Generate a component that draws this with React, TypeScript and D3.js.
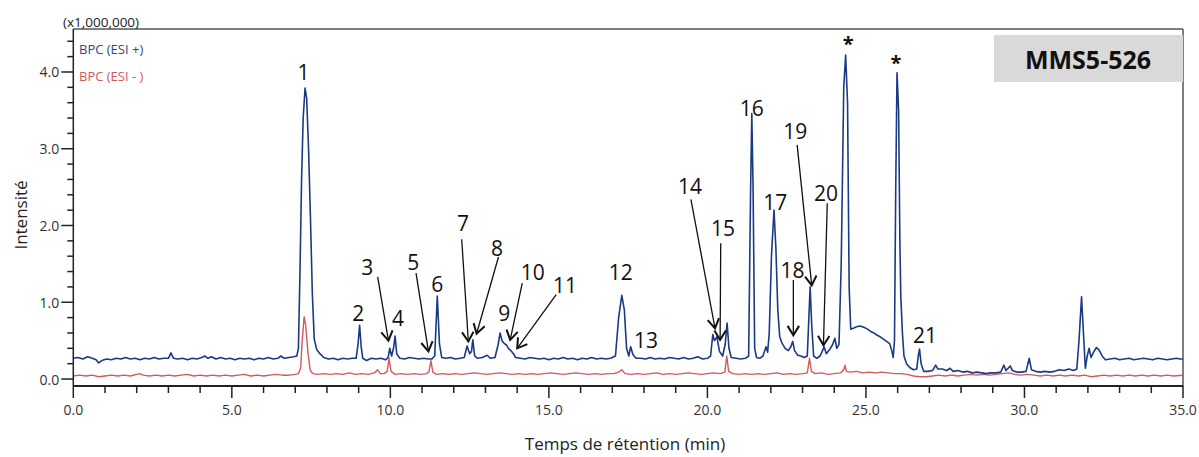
import React from 'react';
import * as d3 from 'd3';

// Chromatogram traces: [retention time (min), intensity (x1,000,000)]
const blueTrace: [number, number][] = [
  [0.0, 0.27], [0.15, 0.28], [0.3, 0.26], [0.45, 0.29], [0.6, 0.27], [0.72, 0.25], [0.8, 0.21], [0.9, 0.24],
  [1.05, 0.26], [1.2, 0.25], [1.35, 0.27], [1.5, 0.26], [1.65, 0.28], [1.8, 0.26], [1.95, 0.27], [2.1, 0.25],
  [2.25, 0.27], [2.4, 0.26], [2.55, 0.28], [2.7, 0.26], [2.85, 0.27], [3.0, 0.27], [3.08, 0.34], [3.16, 0.27],
  [3.3, 0.26], [3.45, 0.27], [3.6, 0.25], [3.75, 0.27], [3.9, 0.26], [4.05, 0.28], [4.15, 0.3], [4.25, 0.27],
  [4.35, 0.29], [4.5, 0.26], [4.65, 0.28], [4.8, 0.26], [4.95, 0.27], [5.1, 0.25], [5.25, 0.27], [5.4, 0.26],
  [5.55, 0.27], [5.7, 0.25], [5.85, 0.27], [6.0, 0.26], [6.15, 0.28], [6.3, 0.26], [6.45, 0.27], [6.55, 0.3],
  [6.65, 0.27], [6.8, 0.28], [6.95, 0.29], [7.05, 0.3], [7.1, 0.4], [7.15, 1.4], [7.2, 2.6], [7.25, 3.4],
  [7.31, 3.79], [7.36, 3.66], [7.42, 3.0], [7.48, 2.1], [7.54, 1.1], [7.6, 0.52], [7.68, 0.38], [7.78, 0.33],
  [7.9, 0.28], [8.05, 0.26], [8.2, 0.27], [8.35, 0.25], [8.5, 0.27], [8.65, 0.26], [8.8, 0.27], [8.92, 0.27],
  [8.98, 0.45], [9.03, 0.7], [9.08, 0.42], [9.13, 0.27], [9.25, 0.24], [9.4, 0.27], [9.55, 0.26], [9.7, 0.27],
  [9.85, 0.25], [9.93, 0.28], [9.98, 0.4], [10.04, 0.3], [10.1, 0.4], [10.15, 0.56], [10.2, 0.33], [10.3, 0.27],
  [10.45, 0.26], [10.6, 0.28], [10.75, 0.27], [10.9, 0.26], [11.05, 0.27], [11.2, 0.26], [11.3, 0.26], [11.4, 0.3],
  [11.48, 1.08], [11.55, 0.45], [11.62, 0.28], [11.75, 0.27], [11.9, 0.28], [12.05, 0.26], [12.2, 0.27], [12.33, 0.28],
  [12.42, 0.43], [12.5, 0.33], [12.56, 0.36], [12.6, 0.51], [12.66, 0.3], [12.75, 0.27], [12.9, 0.28], [13.05, 0.31],
  [13.15, 0.27], [13.3, 0.28], [13.4, 0.45], [13.46, 0.6], [13.52, 0.5], [13.6, 0.46], [13.67, 0.44], [13.72, 0.4],
  [13.8, 0.37], [13.88, 0.33], [13.95, 0.28], [14.1, 0.27], [14.25, 0.26], [14.4, 0.28], [14.55, 0.27], [14.7, 0.26],
  [14.85, 0.27], [15.0, 0.25], [15.15, 0.27], [15.3, 0.26], [15.45, 0.28], [15.6, 0.26], [15.75, 0.27], [15.9, 0.25],
  [16.05, 0.27], [16.2, 0.26], [16.35, 0.28], [16.5, 0.26], [16.65, 0.27], [16.8, 0.26], [16.95, 0.27], [17.1, 0.3],
  [17.2, 0.8], [17.3, 1.09], [17.38, 0.9], [17.45, 0.4], [17.52, 0.3], [17.58, 0.42], [17.65, 0.32], [17.75, 0.27],
  [17.9, 0.27], [18.05, 0.26], [18.2, 0.28], [18.35, 0.26], [18.5, 0.27], [18.65, 0.26], [18.8, 0.28], [18.95, 0.27],
  [19.1, 0.26], [19.25, 0.28], [19.4, 0.26], [19.55, 0.27], [19.7, 0.29], [19.85, 0.26], [20.0, 0.27], [20.1, 0.3],
  [20.17, 0.58], [20.22, 0.5], [20.3, 0.55], [20.38, 0.36], [20.48, 0.3], [20.56, 0.45], [20.62, 0.73], [20.68, 0.4],
  [20.75, 0.28], [20.9, 0.27], [21.05, 0.26], [21.2, 0.27], [21.3, 0.3], [21.36, 2.4], [21.4, 3.46], [21.44, 2.5],
  [21.49, 0.4], [21.55, 0.28], [21.65, 0.27], [21.75, 0.3], [21.85, 0.42], [21.9, 0.35], [21.95, 0.6], [22.02, 1.6],
  [22.1, 2.2], [22.16, 1.7], [22.22, 0.9], [22.28, 0.55], [22.35, 0.47], [22.45, 0.4], [22.55, 0.37], [22.63, 0.42],
  [22.69, 0.49], [22.75, 0.37], [22.85, 0.31], [22.95, 0.3], [23.05, 0.28], [23.15, 0.3], [23.2, 0.8], [23.24, 1.2],
  [23.29, 0.7], [23.35, 0.3], [23.45, 0.27], [23.55, 0.3], [23.62, 0.36], [23.68, 0.42], [23.75, 0.33], [23.85, 0.38],
  [23.95, 0.45], [24.02, 0.53], [24.08, 0.4], [24.15, 0.45], [24.22, 1.5], [24.3, 3.8], [24.36, 4.22], [24.42, 3.6],
  [24.47, 1.2], [24.52, 0.65], [24.6, 0.66], [24.7, 0.68], [24.82, 0.69], [24.95, 0.67], [25.05, 0.65], [25.15, 0.62],
  [25.25, 0.6], [25.35, 0.57], [25.45, 0.55], [25.55, 0.52], [25.65, 0.49], [25.75, 0.46], [25.82, 0.36], [25.86, 0.28],
  [25.9, 0.5], [25.94, 2.5], [25.98, 3.99], [26.03, 3.5], [26.07, 1.8], [26.1, 1.07], [26.15, 0.6], [26.2, 0.3],
  [26.28, 0.2], [26.38, 0.15], [26.5, 0.12], [26.6, 0.13], [26.65, 0.3], [26.69, 0.39], [26.74, 0.2], [26.82, 0.1],
  [26.95, 0.1], [27.1, 0.11], [27.2, 0.18], [27.27, 0.13], [27.4, 0.13], [27.55, 0.11], [27.65, 0.14], [27.75, 0.1],
  [27.9, 0.11], [28.05, 0.09], [28.2, 0.1], [28.35, 0.08], [28.5, 0.09], [28.65, 0.08], [28.8, 0.07], [28.95, 0.08],
  [29.1, 0.08], [29.25, 0.09], [29.35, 0.18], [29.42, 0.11], [29.55, 0.17], [29.62, 0.11], [29.75, 0.09], [29.9, 0.09],
  [30.05, 0.1], [30.15, 0.27], [30.22, 0.12], [30.35, 0.1], [30.5, 0.09], [30.65, 0.1], [30.8, 0.09], [30.95, 0.1],
  [31.1, 0.12], [31.25, 0.11], [31.4, 0.13], [31.55, 0.11], [31.65, 0.13], [31.72, 0.5], [31.8, 1.07], [31.86, 0.6],
  [31.92, 0.14], [31.98, 0.3], [32.04, 0.4], [32.1, 0.28], [32.18, 0.35], [32.27, 0.41], [32.35, 0.38], [32.45, 0.3],
  [32.55, 0.25], [32.7, 0.26], [32.85, 0.27], [33.0, 0.25], [33.15, 0.26], [33.3, 0.27], [33.45, 0.25], [33.6, 0.26],
  [33.75, 0.27], [33.9, 0.26], [34.05, 0.25], [34.2, 0.27], [34.35, 0.26], [34.5, 0.25], [34.65, 0.26], [34.8, 0.27],
  [34.9, 0.26], [35.0, 0.26],
];

const redTrace: [number, number][] = [
  [0.0, 0.04], [0.2, 0.05], [0.4, 0.04], [0.6, 0.05], [0.8, 0.03], [1.0, 0.04], [1.2, 0.05], [1.4, 0.04],
  [1.6, 0.05], [1.8, 0.04], [2.0, 0.06], [2.1, 0.07], [2.2, 0.05], [2.4, 0.04], [2.6, 0.05], [2.8, 0.04],
  [3.0, 0.05], [3.2, 0.04], [3.4, 0.05], [3.6, 0.06], [3.8, 0.04], [4.0, 0.05], [4.2, 0.04], [4.4, 0.05],
  [4.6, 0.04], [4.8, 0.05], [5.0, 0.04], [5.2, 0.05], [5.4, 0.06], [5.6, 0.04], [5.8, 0.05], [6.0, 0.04],
  [6.2, 0.05], [6.4, 0.06], [6.6, 0.05], [6.8, 0.05], [7.0, 0.06], [7.1, 0.07], [7.17, 0.14], [7.22, 0.5],
  [7.28, 0.81], [7.33, 0.7], [7.4, 0.35], [7.47, 0.12], [7.55, 0.07], [7.7, 0.06], [7.9, 0.07], [8.1, 0.06],
  [8.3, 0.07], [8.5, 0.06], [8.7, 0.08], [8.9, 0.06], [9.1, 0.07], [9.3, 0.06], [9.5, 0.08], [9.6, 0.12],
  [9.68, 0.07], [9.8, 0.07], [9.9, 0.1], [9.96, 0.27], [10.02, 0.1], [10.15, 0.06], [10.35, 0.07], [10.55, 0.06],
  [10.75, 0.07], [10.95, 0.06], [11.15, 0.07], [11.22, 0.1], [11.28, 0.24], [11.34, 0.09], [11.45, 0.06], [11.65, 0.07],
  [11.85, 0.06], [12.05, 0.07], [12.25, 0.06], [12.45, 0.07], [12.65, 0.08], [12.85, 0.07], [13.05, 0.06], [13.25, 0.07],
  [13.45, 0.08], [13.65, 0.07], [13.85, 0.06], [14.05, 0.07], [14.25, 0.06], [14.45, 0.07], [14.65, 0.06], [14.85, 0.07],
  [15.05, 0.08], [15.25, 0.07], [15.45, 0.06], [15.65, 0.07], [15.85, 0.08], [16.05, 0.07], [16.25, 0.06], [16.45, 0.07],
  [16.65, 0.06], [16.85, 0.07], [17.05, 0.07], [17.2, 0.09], [17.3, 0.12], [17.4, 0.07], [17.6, 0.06], [17.8, 0.07],
  [18.0, 0.06], [18.2, 0.07], [18.4, 0.08], [18.6, 0.06], [18.8, 0.07], [19.0, 0.06], [19.2, 0.07], [19.4, 0.08],
  [19.6, 0.07], [19.8, 0.06], [20.0, 0.07], [20.2, 0.08], [20.4, 0.07], [20.55, 0.09], [20.61, 0.3], [20.67, 0.1],
  [20.8, 0.07], [21.0, 0.06], [21.2, 0.07], [21.4, 0.06], [21.6, 0.07], [21.8, 0.06], [22.0, 0.07], [22.2, 0.08],
  [22.4, 0.06], [22.6, 0.07], [22.8, 0.06], [23.0, 0.07], [23.15, 0.08], [23.22, 0.27], [23.28, 0.1], [23.4, 0.07],
  [23.6, 0.08], [23.8, 0.06], [24.0, 0.07], [24.2, 0.08], [24.3, 0.12], [24.34, 0.18], [24.38, 0.1], [24.5, 0.09],
  [24.7, 0.1], [24.9, 0.08], [25.1, 0.09], [25.3, 0.08], [25.5, 0.09], [25.7, 0.08], [25.9, 0.07], [26.1, 0.07],
  [26.3, 0.06], [26.5, 0.04], [26.7, 0.03], [26.9, 0.03], [27.1, 0.04], [27.3, 0.05], [27.5, 0.04], [27.7, 0.05],
  [27.9, 0.04], [28.1, 0.05], [28.3, 0.06], [28.5, 0.05], [28.7, 0.06], [28.9, 0.05], [29.1, 0.06], [29.3, 0.07],
  [29.5, 0.08], [29.7, 0.06], [29.9, 0.05], [30.1, 0.06], [30.3, 0.05], [30.5, 0.04], [30.7, 0.05], [30.9, 0.04],
  [31.1, 0.05], [31.3, 0.04], [31.5, 0.05], [31.7, 0.04], [31.9, 0.05], [32.1, 0.03], [32.3, 0.04], [32.5, 0.05],
  [32.7, 0.04], [32.9, 0.05], [33.1, 0.04], [33.3, 0.05], [33.5, 0.04], [33.7, 0.05], [33.9, 0.04], [34.1, 0.05],
  [34.3, 0.04], [34.5, 0.05], [34.7, 0.04], [35.0, 0.05],
];

const xMajorTicks = [0, 5, 10, 15, 20, 25, 30, 35];
const xMinorTicks = d3.range(0, 36, 1).filter((v) => v % 5 !== 0);
const yMajorTicks = [0, 1, 2, 3, 4];
const yMinorTicks = [0.2, 0.4, 0.6, 0.8, 1.2, 1.4, 1.6, 1.8, 2.2, 2.4, 2.6, 2.8, 3.2, 3.4, 3.6, 3.8, 4.2, 4.4];

const seriesNames = ['BPC (ESI +)', 'BPC (ESI - )'];
const sampleName = 'MMS5-526';

// Peak labels: text and position in data units (time, intensity)
const peakLabels: { text: string; t: number; v: number }[] = [
  { text: '1', t: 7.26, v: 4.0 },
  { text: '2', t: 8.99, v: 0.86 },
  { text: '3', t: 9.27, v: 1.46 },
  { text: '4', t: 10.24, v: 0.8 },
  { text: '5', t: 10.72, v: 1.53 },
  { text: '6', t: 11.48, v: 1.24 },
  { text: '7', t: 12.29, v: 2.03 },
  { text: '8', t: 13.36, v: 1.71 },
  { text: '9', t: 13.59, v: 0.86 },
  { text: '10', t: 14.49, v: 1.39 },
  { text: '11', t: 15.51, v: 1.23 },
  { text: '12', t: 17.27, v: 1.4 },
  { text: '13', t: 18.06, v: 0.51 },
  { text: '14', t: 19.45, v: 2.51 },
  { text: '15', t: 20.49, v: 1.97 },
  { text: '16', t: 21.4, v: 3.53 },
  { text: '17', t: 22.14, v: 2.3 },
  { text: '18', t: 22.68, v: 1.42 },
  { text: '19', t: 22.77, v: 3.23 },
  { text: '20', t: 23.74, v: 2.42 },
  { text: '21', t: 26.86, v: 0.57 },
];
const starLabels: { t: number; v: number }[] = [
  { t: 24.44, v: 4.42 },
  { t: 25.95, v: 4.17 },
];

// Arrows pointing to minor peaks: [time, intensity] from -> to
const peakArrows: { from: [number, number]; to: [number, number] }[] = [
  { from: [9.6, 1.33], to: [9.94, 0.5] },
  { from: [10.81, 1.38], to: [11.2, 0.36] },
  { from: [12.25, 1.82], to: [12.46, 0.49] },
  { from: [13.41, 1.59], to: [12.72, 0.59] },
  { from: [14.16, 1.25], to: [13.78, 0.51] },
  { from: [15.23, 1.1], to: [14.0, 0.4] },
  { from: [19.48, 2.34], to: [20.24, 0.66] },
  { from: [20.42, 1.77], to: [20.4, 0.51] },
  { from: [22.71, 1.29], to: [22.71, 0.57] },
  { from: [22.83, 3.05], to: [23.29, 1.22] },
  { from: [23.78, 2.29], to: [23.66, 0.44] },
];

const W = 1199;
const H = 457;
const left = 73.3;
const right = 1183;
const top = 29;
const bottom = 386;
const BLUE = '#1b3a84';
const RED = '#d4595c';
const FONT = "'Open Sans', 'DejaVu Sans', sans-serif";

export default function App() {
  const x = d3.scaleLinear().domain([0, 35]).range([left, right]);
  const y = d3.scaleLinear().domain([-0.091, 4.56]).range([bottom, top]);
  const line = d3
    .line<[number, number]>()
    .x((d) => x(d[0]))
    .y((d) => y(d[1]));

  const arrowHead = (from: [number, number], to: [number, number]) => {
    const x1 = x(from[0]);
    const y1 = y(from[1]);
    const x2 = x(to[0]);
    const y2 = y(to[1]);
    const ang = Math.atan2(y2 - y1, x2 - x1);
    const len = 11;
    const spread = 0.55;
    const a1 = ang + Math.PI - spread;
    const a2 = ang + Math.PI + spread;
    return `M${x2 + len * Math.cos(a1)},${y2 + len * Math.sin(a1)} L${x2},${y2} L${x2 + len * Math.cos(a2)},${y2 + len * Math.sin(a2)}`;
  };

  return (
    <svg width={W} height={H} style={{ position: 'absolute', left: 0, top: 0, background: '#fff' }} fontFamily={FONT}>
      <defs>
        <clipPath id="plot">
          <rect x={left} y={top} width={right - left} height={bottom - top} />
        </clipPath>
      </defs>
      <rect x={0} y={0} width={W} height={H} fill="#fff" />

      {/* frame */}
      <line x1={left} x2={right} y1={top} y2={top} stroke="#555" strokeWidth={1.5} />
      <line x1={right} x2={right} y1={top} y2={bottom} stroke="#555" strokeWidth={1.5} />

      {/* sample box */}
      <rect x={994} y={35} width={right - 994} height={47} fill="#d9d9d9" />
      <text x={1088} y={59} textAnchor="middle" dominantBaseline="central" fontSize={25} fontWeight="bold" fill="#111">
        {sampleName}
      </text>

      {/* traces */}
      <g clipPath="url(#plot)">
        <path d={line(redTrace) || ''} fill="none" stroke={RED} strokeWidth={1.4} strokeLinejoin="round" />
        <path d={line(blueTrace) || ''} fill="none" stroke={BLUE} strokeWidth={1.6} strokeLinejoin="round" />
      </g>

      {/* axes */}
      <line x1={left} x2={left} y1={top} y2={bottom} stroke="#222" strokeWidth={1.5} />
      <line x1={left} x2={right} y1={bottom} y2={bottom} stroke="#222" strokeWidth={1.8} />

      {yMajorTicks.map((v) => (
        <g key={'ym' + v}>
          <line x1={left - 12} x2={left} y1={y(v)} y2={y(v)} stroke="#222" strokeWidth={1.5} />
          <text x={left - 14} y={y(v)} textAnchor="end" dominantBaseline="central" fontSize={14} fill="#333">
            {d3.format('.1f')(v)}
          </text>
        </g>
      ))}
      {yMinorTicks.map((v) => (
        <line key={'yn' + v} x1={left - 6} x2={left} y1={y(v)} y2={y(v)} stroke="#222" strokeWidth={1.5} />
      ))}
      {xMajorTicks.map((v) => (
        <g key={'xm' + v}>
          <line x1={x(v)} x2={x(v)} y1={bottom} y2={bottom + 12} stroke="#222" strokeWidth={1.5} />
          <text x={x(v)} y={bottom + 23} textAnchor="middle" dominantBaseline="central" fontSize={14} fill="#333">
            {d3.format('.1f')(v)}
          </text>
        </g>
      ))}
      {xMinorTicks.map((v) => (
        <line key={'xn' + v} x1={x(v)} x2={x(v)} y1={bottom} y2={bottom + 7} stroke="#222" strokeWidth={1.5} />
      ))}

      {/* axis titles */}
      <text x={63} y={22} fontSize={13.5} fill="#222" dominantBaseline="central">
        (x1,000,000)
      </text>
      <text
        transform={`translate(20,215) rotate(-90)`}
        textAnchor="middle"
        dominantBaseline="central"
        fontSize={17}
        fill="#222"
      >
        Intensité
      </text>
      <text x={625} y={443} textAnchor="middle" dominantBaseline="central" fontSize={17} fill="#222">
        Temps de rétention (min)
      </text>

      {/* legend */}
      <text x={79} y={49} fontSize={13} fill="#2d4a8a" dominantBaseline="central">
        {seriesNames[0]}
      </text>
      <text x={79} y={76} fontSize={13} fill="#d05a5a" dominantBaseline="central">
        {seriesNames[1]}
      </text>

      {/* annotations */}
      {peakArrows.map((a, i) => (
        <g key={'ar' + i} stroke="#111" fill="none" strokeWidth={1.3}>
          <line x1={x(a.from[0])} y1={y(a.from[1])} x2={x(a.to[0])} y2={y(a.to[1])} />
          <path d={arrowHead(a.from, a.to)} strokeWidth={2} />
        </g>
      ))}
      {peakLabels.map((p) => (
        <text
          key={'pl' + p.text}
          x={x(p.t)}
          y={y(p.v)}
          textAnchor="middle"
          dominantBaseline="central"
          fontSize={21}
          fill="#111"
        >
          {p.text}
        </text>
      ))}
      {starLabels.map((s, i) => (
        <text
          key={'st' + i}
          x={x(s.t)}
          y={y(s.v) + 4}
          textAnchor="middle"
          dominantBaseline="central"
          fontSize={20}
          fontWeight="bold"
          fill="#111"
        >
          *
        </text>
      ))}
    </svg>
  );
}
